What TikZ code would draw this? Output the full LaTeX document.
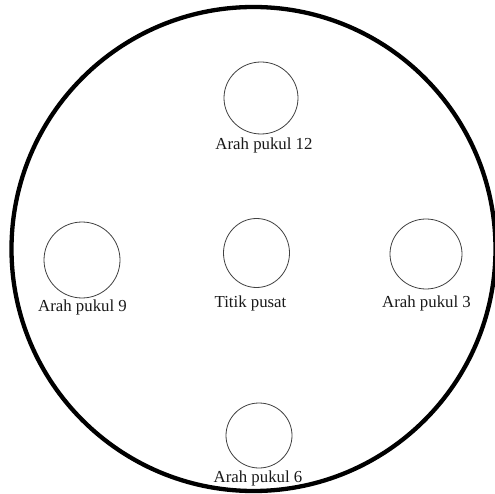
\documentclass[tikz,border=0pt]{standalone}
\usepackage{fontspec}
\setmainfont{Liberation Serif}
\usetikzlibrary{shapes.geometric}
\begin{document}
\begin{tikzpicture}[x=1pt, y=-1pt,
        spot/.style={draw=black!75, line width=0.8pt, ellipse, inner sep=0pt},
        tag/.style={font=\fontsize{16.8}{19}\selectfont, text=black!90, inner sep=0pt}]
    \useasboundingbox (0,0) rectangle (495,494);
    \fill[white] (0,0) rectangle (495,494);
    \draw[line width=4.3pt] (253.5,249) circle (242);
    % the five marks
    \node[spot, minimum width=74pt, minimum height=72pt] (p12) at (261,98) {};
    \node[spot, minimum width=66pt, minimum height=69pt] (pc) at (256.5,253) {};
    \node[spot, minimum width=76pt, minimum height=76pt] (p9) at (82,260) {};
    \node[spot, minimum width=72pt, minimum height=70pt] (p3) at (426,254) {};
    \node[spot, minimum width=66pt, minimum height=65pt] (p6) at (259,435.5) {};
    \node[tag] (l12) at (264,145) {Arah pukul 12};
    \node[tag] (lc) at (250.5,303) {Titik pusat};
    \node[tag] (l9) at (82.5,307) {Arah pukul 9};
    \node[tag] (l3) at (426.5,303) {Arah pukul 3};
    \node[tag] (l6) at (258,478) {Arah pukul 6};
\end{tikzpicture}
\end{document}
